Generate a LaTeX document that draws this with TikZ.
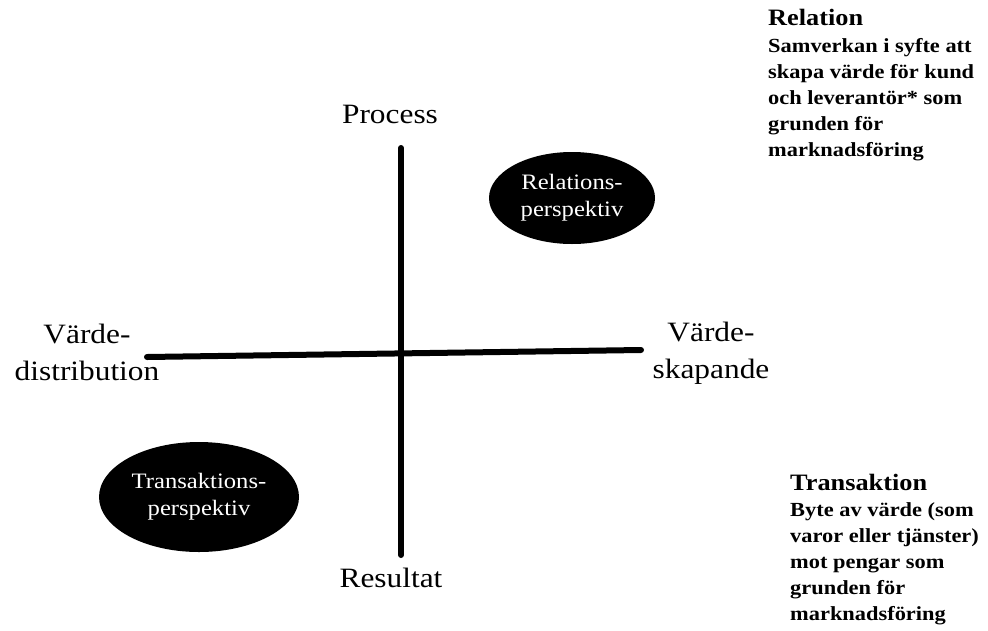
\documentclass[tikz,border=0pt]{standalone}
\usepackage{fontspec}
\setmainfont{Liberation Serif}[FakeStretch=1.12]
\usepackage{tikz}
\usetikzlibrary{positioning,shapes.geometric}
\definecolor{ink}{HTML}{000000}
\definecolor{paper}{HTML}{FFFFFF}

\begin{document}
\begin{tikzpicture}[
  x=1pt, y=-1pt,
  axis/.style={draw=ink, line width=6pt, line cap=round},
  pole/.style={font=\fontsize{28}{37}\selectfont, align=center, inner sep=0pt},
  blob/.style={ellipse, fill=ink, text=paper, align=center, inner sep=0pt, font=\fontsize{22}{27}\selectfont},
  head/.style={font=\bfseries\fontsize{23.5}{28}\selectfont, anchor=north west, inner sep=0pt},
  note/.style={font=\bfseries\fontsize{20}{26}\selectfont, align=left, inner sep=0pt}
]
\useasboundingbox (0,0) rectangle (988,630);

% axes
\coordinate (n) at (401,148);
\coordinate (s) at (401,555);
\coordinate (w) at (147,357);
\coordinate (e) at (641,350);
\draw[axis] (n) -- (s);
\draw[axis] (w) -- (e);

% poles
\node[pole] (proc) at (390,114) {Process};
\node[pole] (res) at (391,578) {Resultat};
\node[pole] (dist) at (87,352) {Värde-\\distribution};
\node[pole] (skap) at (711,353) {Värde-\\skapande};

% perspektiv
\node[blob, minimum width=166pt, minimum height=92pt] (rel) at (572,198) {Relations-\\perspektiv};
\node[blob, minimum width=200pt, minimum height=110pt] (trans) at (199,497) {Transaktions-\\perspektiv};

% notes
\node[head] (relh) at (768,9) {Relation};
\node[note, below=12pt of relh.south west, anchor=north west] (relt) {Samverkan i syfte att\\skapa värde för kund\\och leverantör* som\\grunden för\\marknadsföring};
\node[head] (transh) at (790,474) {Transaktion};
\node[note, below=11pt of transh.south west, anchor=north west] (transt) {Byte av värde (som\\varor eller tjänster)\\mot pengar som\\grunden för\\marknadsföring};
\end{tikzpicture}
\end{document}
